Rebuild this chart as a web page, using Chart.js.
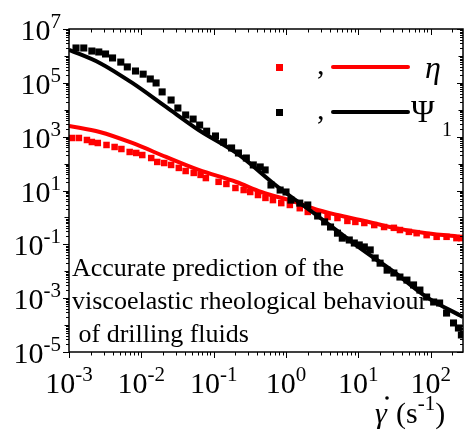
<!DOCTYPE html>
<html>
<head>
<meta charset="utf-8">
<script src="https://cdn.jsdelivr.net/npm/chart.js@4"></script>
<style>
  html, body { margin: 0; padding: 0; background: #fff; }
  #box { width: 468px; height: 431px; }
</style>
</head>
<body>
<div id="box"><canvas id="flow" width="468" height="431"></canvas></div>
<script>
// shear rate (s^-1) and measured / predicted values
const etaDataX = [1.1e-3,1.37e-3,1.77e-3,2.07e-3,2.5e-3,3.3e-3,4.27e-3,5.3e-3,6.9e-3,8.5e-3,
  1.03e-2,1.37e-2,1.66e-2,2.07e-2,2.58e-2,3.3e-2,4.1e-2,5.3e-2,6.6e-2,7.8e-2,
  0.117,0.15,0.2,0.26,0.32,0.41,0.52,0.66,0.86,1.13,1.55,2.0,2.74,3.76,5.15,7.06,9.1,
  12.1,16.6,22.7,31,37.6,50,64,88,121,166,227,266];
const etaDataY = [893,893,753,634,582,491,414,348,270,248,
  208,161,115,105,89,69,53,45,38,29,
  21,17.5,12.4,10.4,8.8,6.8,5.3,4.4,3.4,2.9,2.2,1.6,1.34,1.04,0.95,0.74,0.68,
  0.62,0.52,0.44,0.41,0.34,0.29,0.26,0.22,0.19,0.19,0.17,0.17];

const psiDataX = [1.25e-3,1.6e-3,2.07e-3,2.58e-3,3.2e-3,4.0e-3,5.2e-3,6.4e-3,8.3e-3,
  1.06e-2,1.33e-2,1.6e-2,1.94e-2,2.58e-2,3.2e-2,4.1e-2,5.2e-2,6.4e-2,8.0e-2,
  0.106,0.137,0.177,0.22,0.283,0.353,0.44,0.515,0.62,0.83,
  1.0,1.17,1.55,2.0,2.74,3.42,4.13,5.15,6.0,7.5,8.8,
  10.3,12.1,14.6,17.1,20,25,31,37.6,47,58,71,88,
  110,133,166,207,242,266];
const psiDataY = [1.97e6,1.97e6,1.52e6,1.4e6,1.18e6,8.4e5,5.9e5,3.9e5,2.75e5,
  2.1e5,1.39e5,9.9e4,4.6e4,2.3e4,1.16e4,6.4e3,4.5e3,2.7e3,1.6e3,
  1.06e3,634,380,248,161,89,75,58,16,10.4,
  8.8,4.4,3.4,2.9,1.13,0.68,0.44,0.26,0.17,0.145,0.112,
  0.095,0.080,0.062,0.031,0.020,0.011,0.0086,0.0061,0.0047,0.0031,0.0020,0.0011,
  7.2e-4,6.6e-4,2.8e-4,1.2e-4,7.8e-5,4.3e-5];

const etaFitX = [1e-3,2.66e-3,7.5e-3,0.022,0.062,0.206,0.455,1.33,2.74,5.15,10.6,31,88,280];
const etaFitY = [2500,1490,582,176,58,20.7,8.8,3.75,1.89,1.23,0.80,0.41,0.26,0.19];
const psiFitX = [1e-3,2.66e-3,7.5e-3,0.022,0.062,0.206,0.776,2.74,10.6,31,88,280];
const psiFitY = [1.7e6,5.5e5,9.9e4,1.27e4,1.77e3,248,13.5,1.13,0.073,0.0094,0.0011,2.0e-4];

// tick labels (powers of ten)
const xTickExp = [-3,-2,-1,0,1,2];
const yTickExp = [7,5,3,1,-1,-3,-5];

const note = ['Accurate prediction of the', 'viscoelastic rheological behaviour', ' of drilling fluids'];

const pts = (xs, ys) => xs.map((x, i) => ({x: x, y: ys[i]}));
const SERIF = '"Liberation Serif", "Times New Roman", Times, serif';

// draw "10" with a superscript exponent
function pow10(ctx, exp, x, base, align) {
	ctx.font = '30px ' + SERIF;
	const wb = ctx.measureText('10').width;
	ctx.font = '21px ' + SERIF;
	const sup = String(exp);
	const we = ctx.measureText(sup).width;
	let left = x;
	if (align === 'center') left = x - (wb + we) / 2;
	if (align === 'right') left = x - wb - we;
	ctx.textAlign = 'left';
	ctx.textBaseline = 'alphabetic';
	ctx.font = '30px ' + SERIF;
	ctx.fillText('10', left, base);
	ctx.font = '21px ' + SERIF;
	ctx.fillText(sup, left + wb, base - 12);
}

const frame = {
	id: 'frame',
	afterDraw(chart) {
		const { ctx, chartArea: a, scales } = chart;
		const xs = scales.x, ys = scales.y;
		ctx.save();
		ctx.strokeStyle = '#000';
		ctx.fillStyle = '#000';
		ctx.lineWidth = 1.5;
		ctx.strokeRect(a.left, a.top, a.right - a.left, a.bottom - a.top);

		ctx.lineWidth = 1;
		ctx.beginPath();
		// x ticks: bottom outward, top inward
		for (let d = -3; d <= 2; d++) {
			for (let k = 1; k <= 9; k++) {
				const v = k * Math.pow(10, d);
				if (v > xs.max) break;
				const px = Math.round(xs.getPixelForValue(v)) + 0.5;
				const len = k === 1 ? 6 : 3.5;
				ctx.moveTo(px, a.bottom); ctx.lineTo(px, a.bottom + len);
				ctx.moveTo(px, a.top); ctx.lineTo(px, a.top + len);
			}
		}
		// y ticks: left outward, right inward
		for (let d = -5; d <= 7; d++) {
			for (let k = 1; k <= 9; k++) {
				const v = k * Math.pow(10, d);
				if (v > ys.max) break;
				const py = Math.round(ys.getPixelForValue(v)) + 0.5;
				const len = k === 1 ? (Math.abs(d) % 2 === 1 ? 6 : 4.5) : 3;
				ctx.moveTo(a.left, py); ctx.lineTo(a.left - len, py);
				ctx.moveTo(a.right, py); ctx.lineTo(a.right - len, py);
			}
		}
		ctx.stroke();

		xTickExp.forEach(e => pow10(ctx, e, xs.getPixelForValue(Math.pow(10, e)), a.bottom + 41, 'center'));
		yTickExp.forEach(e => pow10(ctx, e, a.left - 8, ys.getPixelForValue(Math.pow(10, e)) + 11, 'right'));

		// axis title
		ctx.font = 'italic 30px ' + SERIF;
		ctx.fillText('\u03B3', 375, 423);
		ctx.beginPath();
		ctx.arc(387, 398, 1.8, 0, 2 * Math.PI);
		ctx.fill();
		ctx.font = '30px ' + SERIF;
		ctx.fillText('(s', 396, 423);
		let w = ctx.measureText('(s').width;
		ctx.font = '21px ' + SERIF;
		ctx.fillText('-1', 396 + w, 410);
		let w2 = ctx.measureText('-1').width;
		ctx.font = '30px ' + SERIF;
		ctx.fillText(')', 396 + w + w2, 423);

		// note
		ctx.font = '26px ' + SERIF;
		note.forEach((t, i) => ctx.fillText(t, a.left + 3, 276 + i * 33));

		// legend
		const rows = [
			{ c: '#ff0000', y: 67 },
			{ c: '#000000', y: 112 }
		];
		rows.forEach(r => {
			ctx.fillStyle = r.c;
			ctx.fillRect(276, r.y - 3, 7, 7);
			ctx.fillStyle = '#000';
			ctx.font = '30px ' + SERIF;
			ctx.fillText(',', 317, r.y + 7);
			ctx.strokeStyle = r.c;
			ctx.lineWidth = 4;
			ctx.lineCap = 'round';
			ctx.beginPath();
			ctx.moveTo(333, r.y); ctx.lineTo(408, r.y);
			ctx.stroke();
		});
		ctx.fillStyle = '#000';
		ctx.font = 'italic 32px ' + SERIF;
		ctx.fillText('\u03B7', 425, 78);
		ctx.font = '32px ' + SERIF;
		ctx.fillText('\u03A8', 411, 122);
		ctx.font = '20px ' + SERIF;
		ctx.fillText('1', 442, 136);
		ctx.restore();
	}
};

new Chart(document.getElementById('flow'), {
	type: 'scatter',
	data: {
		datasets: [
			{ label: 'eta data', data: pts(etaDataX, etaDataY), pointStyle: 'rect', pointRadius: 4.6,
			  backgroundColor: '#ff0000', borderWidth: 0, order: 4 },
			{ label: 'eta model', data: pts(etaFitX, etaFitY), showLine: true, pointRadius: 0,
			  borderColor: '#ff0000', borderWidth: 4, cubicInterpolationMode: 'monotone', order: 3 },
			{ label: 'psi1 data', data: pts(psiDataX, psiDataY), pointStyle: 'rect', pointRadius: 5,
			  backgroundColor: '#000000', borderWidth: 0, order: 2 },
			{ label: 'psi1 model', data: pts(psiFitX, psiFitY), showLine: true, pointRadius: 0,
			  borderColor: '#000000', borderWidth: 4, cubicInterpolationMode: 'monotone', order: 1 }
		]
	},
	options: {
		responsive: false,
		animation: false,
		layout: { padding: { left: 69, right: 2, top: 29, bottom: 79 } },
		plugins: { legend: { display: false }, tooltip: { enabled: false } },
		scales: {
			x: { type: 'logarithmic', min: 1e-3, max: 280, display: false },
			y: { type: 'logarithmic', min: 1e-5, max: 1e7, display: false }
		}
	},
	plugins: [frame]
});
</script>
</body>
</html>
